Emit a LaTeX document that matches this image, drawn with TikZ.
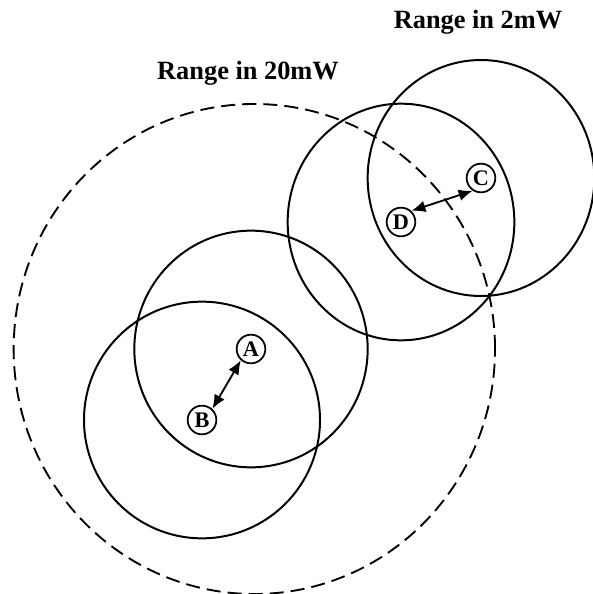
\documentclass[tikz,border=0pt]{standalone}
\usepackage{fontspec}
\setmainfont{Liberation Serif}
\usetikzlibrary{arrows.meta}

\begin{document}
\begin{tikzpicture}[x=0.03cm,y=-0.03cm,
  stn/.style={draw, circle, line width=1.5pt, minimum size=0.86cm, inner sep=0pt, font=\fontsize{19}{19}\selectfont\bfseries},
  rng/.style={line width=1.7pt},
  far/.style={line width=1.6pt, dash pattern=on 12pt off 6pt},
  arr/.style={{Latex[length=12pt,width=10pt]}-{Latex[length=12pt,width=10pt]}, line width=1.6pt},
  lab/.style={font=\fontsize{22.5}{26}\selectfont\bfseries, inner sep=0pt}]
\useasboundingbox (0,0) rectangle (592,594);
\node[stn] (A) at (251,349) {A};
\node[stn] (B) at (202,420) {B};
\node[stn] (C) at (481,178) {C};
\node[stn] (D) at (401,222) {D};
\node[lab] (L20) at (248,73) {Range in 20mW};
\node[lab] (L2)  at (478,22) {Range in 2mW};
\draw[far] ([xshift=0.1cm]A.center) ellipse [x radius=7.22cm, y radius=7.35cm];
\draw[rng] (A.center) ellipse [x radius=3.5cm, y radius=3.55cm];
\draw[rng] (B.center) ellipse [x radius=3.54cm, y radius=3.55cm];
\draw[rng] (C.center) ellipse [x radius=3.4cm, y radius=3.54cm];
\draw[rng] (D.center) ellipse [x radius=3.4cm, y radius=3.55cm];
\draw[arr] (A.228) -- (B.47);
\draw[arr] (D.47) -- (C.237);
\end{tikzpicture}
\end{document}
